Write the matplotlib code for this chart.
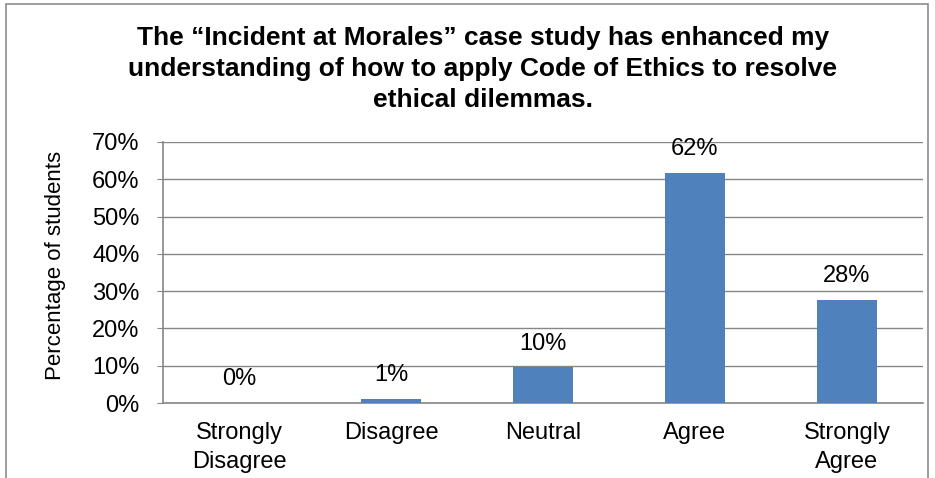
import matplotlib.pyplot as plt
from matplotlib.patches import Rectangle

categories = ['Strongly\nDisagree', 'Disagree', 'Neutral', 'Agree', 'Strongly\nAgree']
values = [0.0, 1.15, 9.6, 61.7, 27.7]
labels = ['0%', '1%', '10%', '62%', '28%']
yticks = [0, 10, 20, 30, 40, 50, 60, 70]

title = ('The \u201cIncident at Morales\u201d case study has enhanced my\n'
         'understanding of how to apply Code of Ethics to resolve\n'
         'ethical dilemmas.')

plt.rcParams['font.family'] = ['Liberation Sans', 'DejaVu Sans']

fig = plt.figure(figsize=(9.35, 4.78), dpi=100)
ax = fig.add_axes([163 / 935, 1 - 403 / 478, 760 / 935, 261 / 478])

# chart border (bottom edge cut off in the source)
fig.patches.append(Rectangle((6 / 935, -0.05), 922 / 935, 1.05 - 4 / 478,
                             transform=fig.transFigure, fill=False,
                             edgecolor='#8c8c8c', linewidth=1.2))

x = list(range(len(categories)))
ax.bar(x, values, width=0.4, color='#4f81bd', zorder=3)
for xi, v, lab in zip(x, values, labels):
    ax.annotate(lab, (xi, v), xytext=(0, 17), textcoords='offset points',
                ha='center', va='center', fontsize=17, zorder=4)

ax.set_xlim(-0.5, len(categories) - 0.5)
ax.set_ylim(0, 70)
ax.set_yticks(yticks)
ax.set_yticklabels([f'{t}%' for t in yticks], fontsize=17)
ax.set_xticks(x)
ax.set_xticklabels(categories, fontsize=17, linespacing=1.4)
ax.tick_params(axis='x', length=0, pad=14)
ax.tick_params(axis='y', length=4, color='#868686', pad=13)
ax.yaxis.grid(True, color='#868686', linewidth=1.0, zorder=0)
for side in ['top', 'right']:
    ax.spines[side].set_visible(False)
for side in ['left', 'bottom']:
    ax.spines[side].set_color('#868686')
    ax.spines[side].set_linewidth(1.2)

fig.text(55 / 935, 1 - 265 / 478, 'Percentage of students', rotation=90,
         ha='center', va='center', fontsize=16)
fig.text(483 / 935, 1 - 69 / 478, title, ha='center', va='center',
         fontsize=19, fontweight='bold', linespacing=1.35)

fig.savefig('out.png', dpi=100)
